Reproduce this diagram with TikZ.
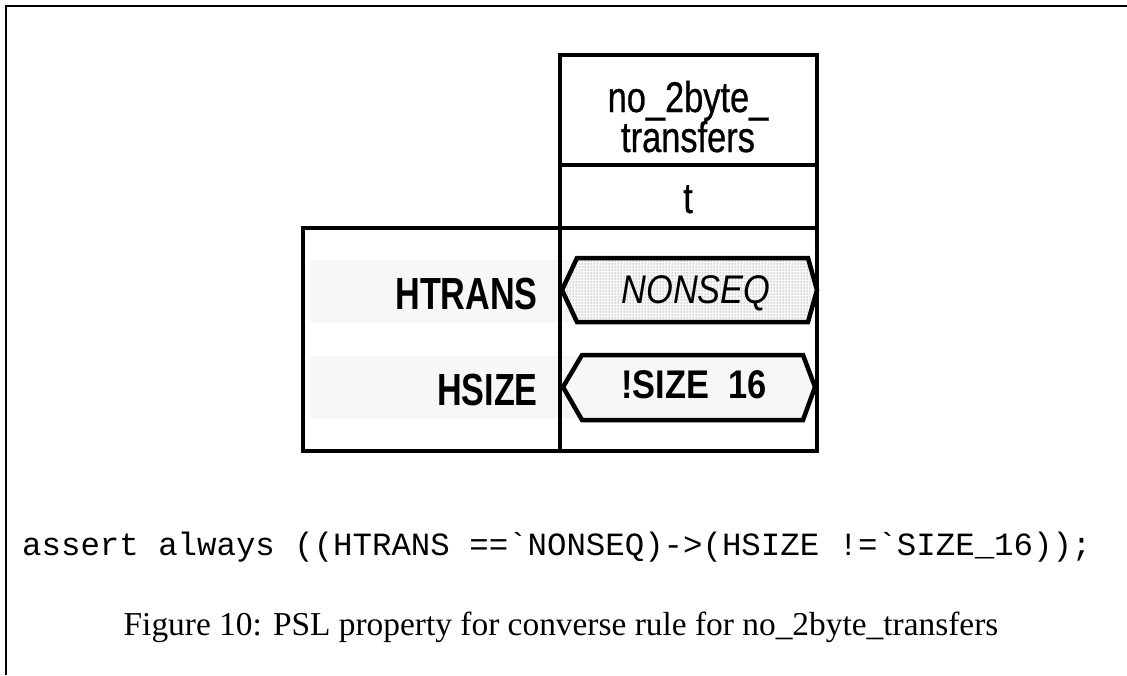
\documentclass[tikz,border=0pt]{standalone}
\usepackage{fontspec}
\setmainfont{Liberation Serif}
\newfontfamily\narrowsans[FakeStretch=0.76]{Liberation Sans}
\newfontfamily\narrowmed[FakeStretch=0.8,FakeBold=0.6]{Liberation Sans}
\newfontfamily\narrowval[FakeStretch=0.86]{Liberation Sans}
\newfontfamily\codefont{Liberation Mono}
\usetikzlibrary{patterns}
\definecolor{bandgray}{HTML}{F7F7F7}
\tikzset{
  rule/.style={line width=4pt},
  frameline/.style={line width=2pt},
  band/.style={fill=bandgray, draw=none},
  sig/.style={font=\narrowsans\bfseries\fontsize{45}{48}\selectfont, inner sep=0pt},
  head/.style={font=\narrowmed\fontsize{43}{40}\selectfont, inner sep=0pt},
  hexval/.style={line width=4.5pt, line join=miter},
}
\begin{document}
\begin{tikzpicture}[x=1pt,y=-1pt]
\useasboundingbox (0,0) rectangle (1127,675);
% page frame (top and left edges only)
\draw[frameline] (6,675) -- (6,6) -- (1127,6);

% grey row bands
\fill[band] (310,260) rectangle (810,323);
\fill[band] (310,356) rectangle (810,419);

% table rules
\draw[rule] (560,55) rectangle (817,228);
\draw[rule] (560,165) -- (817,165);
\draw[rule] (303,228) rectangle (817,451);
\draw[rule] (560,228) -- (560,451);

% header cells
\node[head, anchor=base] (colname) at (688,112) {no\_2byte\_};
\node[head, anchor=base] (colname2) at (688,152) {transfers};
\node[head, anchor=base] (tick) at (688,213) {t};

% signal names
\node[sig, anchor=base east] (htrans) at (538,309) {HTRANS};
\node[sig, anchor=base east] (hsize) at (538,405) {HSIZE};

% value boxes
\draw[hexval, pattern=dots, pattern color=black!60]
  (562,290) -- (577,258) -- (808,258) -- (817,290) -- (808,322) -- (577,322) -- cycle;
\draw[hexval]
  (563,387) -- (582,355) -- (803,355) -- (815,387) -- (803,420) -- (582,420) -- cycle;
\node[font=\narrowval\itshape\fontsize{40}{40}\selectfont, inner sep=0pt, anchor=base] (nonseq) at (696,303) {NONSEQ};
\node[font=\narrowval\bfseries\fontsize{40}{40}\selectfont, inner sep=0pt, anchor=base] (size16) at (694,398) {!SIZE\ \ 16};

% assertion and caption
\node[font=\codefont\fontsize{32.4}{34}\selectfont, anchor=base west, inner sep=0pt] (code) at (22,555) {assert always ((HTRANS ==`NONSEQ)->(HSIZE !=`SIZE\_16));};
\node[font=\fontsize{33.4}{36}\selectfont, inner sep=0pt] (caption) at (561,627) {Figure 10: PSL property for converse rule for no\_2byte\_transfers};
\end{tikzpicture}
\end{document}
